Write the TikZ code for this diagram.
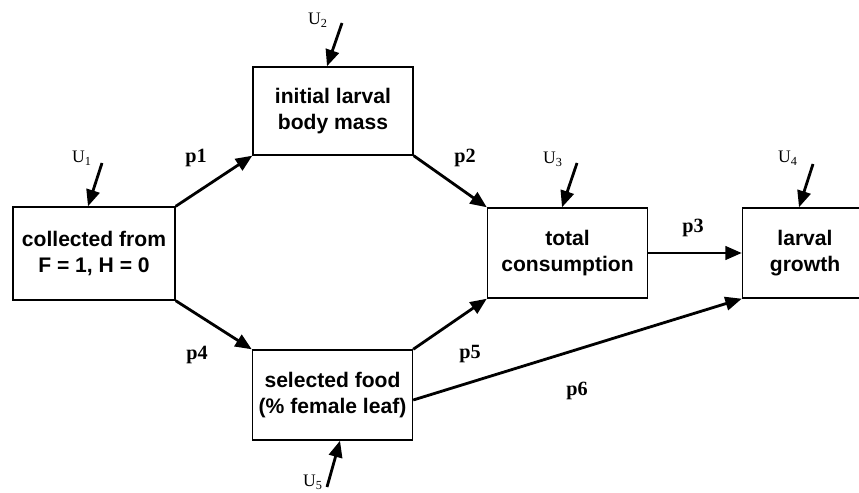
\documentclass[tikz,border=0pt]{standalone}
\usepackage{fontspec}
\setmainfont{Liberation Serif}
\setsansfont{Liberation Sans}
\usepackage{tikz}
\usetikzlibrary{positioning,arrows.meta,calc}

\begin{document}
\begin{tikzpicture}[
    box/.style={draw,rectangle,line width=0.8pt,minimum width=3.2cm,minimum height=1.8cm,
        align=center,font=\sffamily\bfseries\fontsize{12}{14.5}\selectfont},
    link/.style={line width=1.6pt,-{Triangle[length=3.3mm,width=2.7mm]}},
    coef/.style={font=\bfseries\fontsize{11.5}{13}\selectfont},
    err/.style={font=\fontsize{10}{12}\selectfont}
]
    \useasboundingbox (0,0) rectangle (17.18,9.84);

    % boxes
    \node[box,minimum width=3.24cm,minimum height=1.86cm] (coll) at (1.88,4.77) {collected from\\F = 1, H = 0};
    \node[box,minimum height=1.76cm] (init) at (6.66,7.62) {initial larval\\body mass};
    \node[box] (total) at (11.35,4.78) {total\\consumption};
    \node[box,minimum width=2.5cm] (larval) at (16.1,4.78) {larval\\growth};
    \node[box] (sel) at (6.65,1.94) {selected food\\(\% female leaf)};

    % paths
    \draw[link] (coll.north east) -- (init.south west);
    \draw[link] (init.south east) -- (total.north west);
    \draw[link] (coll.south east) -- (sel.north west);
    \draw[link] (sel.north east) -- (total.south west);
    \draw[link] (total.east) -- (larval.west);
    \draw[link] ([yshift=-0.1cm]sel.east) -- (larval.south west);

    \node[coef] (p1) at (3.92,6.68) {p1};
    \node[coef] (p2) at (9.3,6.68) {p2};
    \node[coef] (p3) at (13.86,5.28) {p3};
    \node[coef] (p4) at (3.94,2.74) {p4};
    \node[coef] (p5) at (9.4,2.76) {p5};
    \node[coef] (p6) at (11.54,2.02) {p6};

    % residuals
    \coordinate (u1) at (2.04,6.58);
    \coordinate (u2) at (6.84,9.38);
    \coordinate (u3) at (11.54,6.58);
    \coordinate (u4) at (16.26,6.56);
    \coordinate (u5) at (6.54,0.1);
    \draw[link] (u1) -- ([xshift=-0.12cm]coll.north);
    \draw[link] (u2) -- ([xshift=-0.12cm]init.north);
    \draw[link] (u3) -- ([xshift=-0.11cm]total.north);
    \draw[link] (u4) -- ([xshift=-0.12cm]larval.north);
    \draw[link] (u5) -- ([xshift=0.15cm]sel.south);
    \node[err] (U1) at (1.64,6.68) {U\textsubscript{1}};
    \node[err] (U2) at (6.36,9.44) {U\textsubscript{2}};
    \node[err] (U3) at (11.06,6.66) {U\textsubscript{3}};
    \node[err] (U4) at (15.76,6.68) {U\textsubscript{4}};
    \node[err,inner sep=0pt] (U5) at (6.26,0.2) {U\textsubscript{5}};
\end{tikzpicture}
\end{document}
